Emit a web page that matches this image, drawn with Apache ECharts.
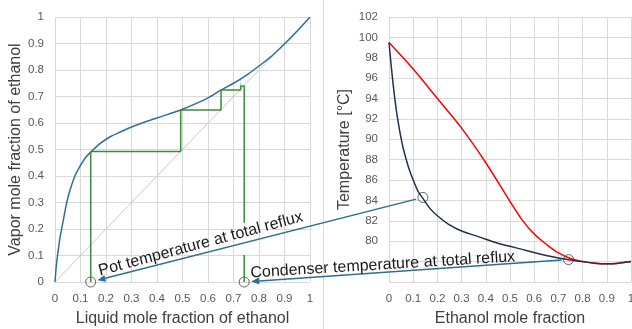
<!DOCTYPE html>
<html>
<head>
<meta charset="utf-8">
<script src="https://cdn.jsdelivr.net/npm/echarts@6/dist/echarts.min.js"></script>
<style>
html,body{margin:0;padding:0;background:#fff}
#chart{width:632px;height:329px}
</style>
</head>
<body>
<div id="chart"></div>
<script>
// equilibrium curve y(x), left chart
const eqX = [0, 0.005, 0.01, 0.02, 0.03, 0.046, 0.06, 0.078, 0.1, 0.12, 0.14, 0.18, 0.22, 0.26, 0.3, 0.35, 0.4, 0.45, 0.5, 0.55, 0.6, 0.65, 0.7, 0.75, 0.8, 0.85, 0.9, 0.95, 1];
const eqY = [0, 0.06, 0.1, 0.17, 0.22, 0.3, 0.35, 0.4, 0.44, 0.47, 0.49, 0.525, 0.55, 0.568, 0.585, 0.603, 0.619, 0.635, 0.652, 0.672, 0.695, 0.724, 0.75, 0.78, 0.815, 0.853, 0.898, 0.947, 1];

// stages at total reflux (green)
const stepX = [0.14, 0.14, 0.493, 0.493, 0.651, 0.651, 0.728, 0.728, 0.742, 0.742];
const stepY = [0, 0.492, 0.492, 0.649, 0.649, 0.725, 0.725, 0.74, 0.74, 0.224];
const stepTailX = [0.742, 0.742];
const stepTailY = [0.102, 0];
const dotX = [0.728, 0.728];
const dotY = [0.743, 0.762];

// temperature curves, right chart
const dewX = [0, 0.1, 0.2, 0.3, 0.4, 0.5, 0.55, 0.6, 0.65, 0.7, 0.75, 0.8, 0.85, 0.9, 0.95, 1];
const dewT = [99.5, 96.9, 94.0, 91.1, 87.7, 83.9, 82.1, 80.7, 79.7, 78.85, 78.3, 78.0, 77.85, 77.8, 77.85, 78.0];
const bubX = [0, 0.01, 0.02, 0.03, 0.04, 0.05, 0.06, 0.08, 0.1, 0.12, 0.14, 0.17, 0.2, 0.25, 0.3, 0.35, 0.4, 0.45, 0.5, 0.55, 0.6, 0.65, 0.7, 0.75, 0.8, 0.85, 0.9, 0.95, 1];
const bubT = [99.5, 97.0, 94.8, 92.9, 91.4, 90.1, 89.0, 87.3, 86.0, 84.9, 84.2, 83.2, 82.5, 81.6, 81.0, 80.6, 80.2, 79.8, 79.5, 79.2, 78.9, 78.6, 78.35, 78.15, 78.0, 77.85, 77.8, 77.85, 78.0];

// marked compositions
const pointX = [0.14, 0.742];
const pointT = [84.3, 78.2];
const tempLabels = [80, 82, 84, 86, 88, 90, 92, 94, 96, 98, 100, 102];

const zip = (a, b) => a.map((v, i) => [v, b[i]]);

const chart = echarts.init(document.getElementById('chart'));
const font = '"Liberation Sans", Arial, sans-serif';
const gridLine = { show: true, lineStyle: { color: '#d9d9d9', width: 1 } };
const tickLabel = { color: '#595959', fontSize: 11.5, fontFamily: font, margin: 11 };
const titleStyle = { color: '#404040', fontSize: 16, fontFamily: font };

chart.setOption({
  animation: false,
  grid: [
    { left: 55, right: 322, top: 17, bottom: 47, outerBoundsMode: 'none' },
    { left: 389, right: 1, top: 17, bottom: 47, outerBoundsMode: 'none' }
  ],
  xAxis: [
    {
      gridIndex: 0, type: 'value', min: 0, max: 1, interval: 0.1,
      axisLine: { show: false }, axisTick: { show: false }, splitLine: gridLine,
      axisLabel: Object.assign({ formatter: v => String(+v.toFixed(1)) }, tickLabel),
      name: 'Liquid mole fraction of ethanol', nameLocation: 'middle', nameGap: 29, nameTextStyle: titleStyle
    },
    {
      gridIndex: 1, type: 'value', min: 0, max: 1, interval: 0.1,
      axisLine: { show: false }, axisTick: { show: false }, splitLine: gridLine,
      axisLabel: Object.assign({ formatter: v => String(+v.toFixed(1)) }, tickLabel),
      name: 'Ethanol mole fraction', nameLocation: 'middle', nameGap: 29, nameTextStyle: titleStyle
    }
  ],
  yAxis: [
    {
      gridIndex: 0, type: 'value', min: 0, max: 1, interval: 0.1,
      axisLine: { show: false }, axisTick: { show: false }, splitLine: gridLine,
      axisLabel: Object.assign({ formatter: v => String(+v.toFixed(1)) }, tickLabel),
      name: 'Vapor mole fraction of ethanol', nameLocation: 'middle', nameGap: 31, nameTextStyle: titleStyle
    },
    {
      gridIndex: 1, type: 'value', min: 76, max: 102, interval: 2,
      axisLine: { show: false }, axisTick: { show: false }, splitLine: gridLine,
      axisLabel: Object.assign({ formatter: v => tempLabels.includes(v) ? String(v) : '' }, tickLabel),
      name: 'Temperature [°C]', nameLocation: 'middle', nameGap: 36, nameTextStyle: titleStyle
    }
  ],
  series: [
    {
      type: 'line', xAxisIndex: 0, yAxisIndex: 0, data: [[0, 0], [1, 1]],
      symbol: 'none', lineStyle: { color: '#c8c8c8', width: 1 }
    },
    {
      type: 'line', xAxisIndex: 0, yAxisIndex: 0, data: zip(eqX, eqY), smooth: 0.3,
      symbol: 'none', lineStyle: { color: '#2f6f96', width: 1.5 }
    },
    {
      type: 'line', xAxisIndex: 0, yAxisIndex: 0, data: zip(dotX, dotY),
      symbol: 'none', lineStyle: { color: '#7ccbec', width: 1, type: [2, 2] }
    },
    {
      type: 'line', xAxisIndex: 0, yAxisIndex: 0, data: zip(stepX, stepY),
      symbol: 'none', lineStyle: { color: '#3b8a3b', width: 1.5 }
    },
    {
      type: 'line', xAxisIndex: 0, yAxisIndex: 0, data: zip(stepTailX, stepTailY),
      symbol: 'none', lineStyle: { color: '#3b8a3b', width: 1.5 }
    },
    {
      type: 'scatter', xAxisIndex: 0, yAxisIndex: 0, data: pointX.map(x => [x, 0]),
      symbol: 'circle', symbolSize: 10,
      itemStyle: { color: 'rgba(0,0,0,0)', borderColor: '#404040', borderWidth: 1 }
    },
    {
      type: 'line', xAxisIndex: 1, yAxisIndex: 1, data: zip(dewX, dewT), smooth: 0.3,
      symbol: 'none', lineStyle: { color: '#ff0000', width: 1.5 }
    },
    {
      type: 'line', xAxisIndex: 1, yAxisIndex: 1, data: zip(bubX, bubT), smooth: 0.3,
      symbol: 'none', lineStyle: { color: '#1f3050', width: 1.5 }
    },
    {
      type: 'scatter', xAxisIndex: 1, yAxisIndex: 1, data: zip(pointX, pointT),
      symbol: 'circle', symbolSize: 10,
      itemStyle: { color: 'rgba(0,0,0,0)', borderColor: '#404040', borderWidth: 1 }
    }
  ]
});

// arrows from the temperature points to the compositions on the x axis
function arrow(from, to) {
  const dx = to[0] - from[0], dy = to[1] - from[1];
  const len = Math.hypot(dx, dy), ux = dx / len, uy = dy / len;
  const a = [from[0] + ux * 7, from[1] + uy * 7];
  const b = [to[0] - ux * 7, to[1] - uy * 7];
  const base = [b[0] - ux * 8, b[1] - uy * 8];
  return [
    { type: 'line', z: 10, shape: { x1: a[0], y1: a[1], x2: base[0], y2: base[1] },
      style: { stroke: '#2e6f8e', lineWidth: 1.5 } },
    { type: 'polygon', z: 10, shape: { points: [b, [base[0] - uy * 3.5, base[1] + ux * 3.5], [base[0] + uy * 3.5, base[1] - ux * 3.5]] },
      style: { fill: '#2e6f8e' } }
  ];
}

const graphics = [
  { type: 'line', shape: { x1: 323.5, y1: 0, x2: 323.5, y2: 329 }, style: { stroke: '#d9d9d9', lineWidth: 1 } }
];
pointX.forEach((x, i) => {
  const from = chart.convertToPixel({ gridIndex: 1 }, [x, pointT[i]]);
  const to = chart.convertToPixel({ gridIndex: 0 }, [x, 0]);
  graphics.push(...arrow(from, to));
});
graphics.push(
  { type: 'text', z: 11, x: 101, y: 279, rotation: 15 * Math.PI / 180,
    style: { text: 'Pot temperature at total reflux', font: '16px ' + font, fill: '#1a1a1a', align: 'left', verticalAlign: 'bottom' } },
  { type: 'text', z: 11, x: 251, y: 281, rotation: 3.5 * Math.PI / 180,
    style: { text: 'Condenser temperature at total reflux', font: '16px ' + font, fill: '#1a1a1a', align: 'left', verticalAlign: 'bottom' } }
);
chart.setOption({ graphic: graphics });
</script>
</body>
</html>
